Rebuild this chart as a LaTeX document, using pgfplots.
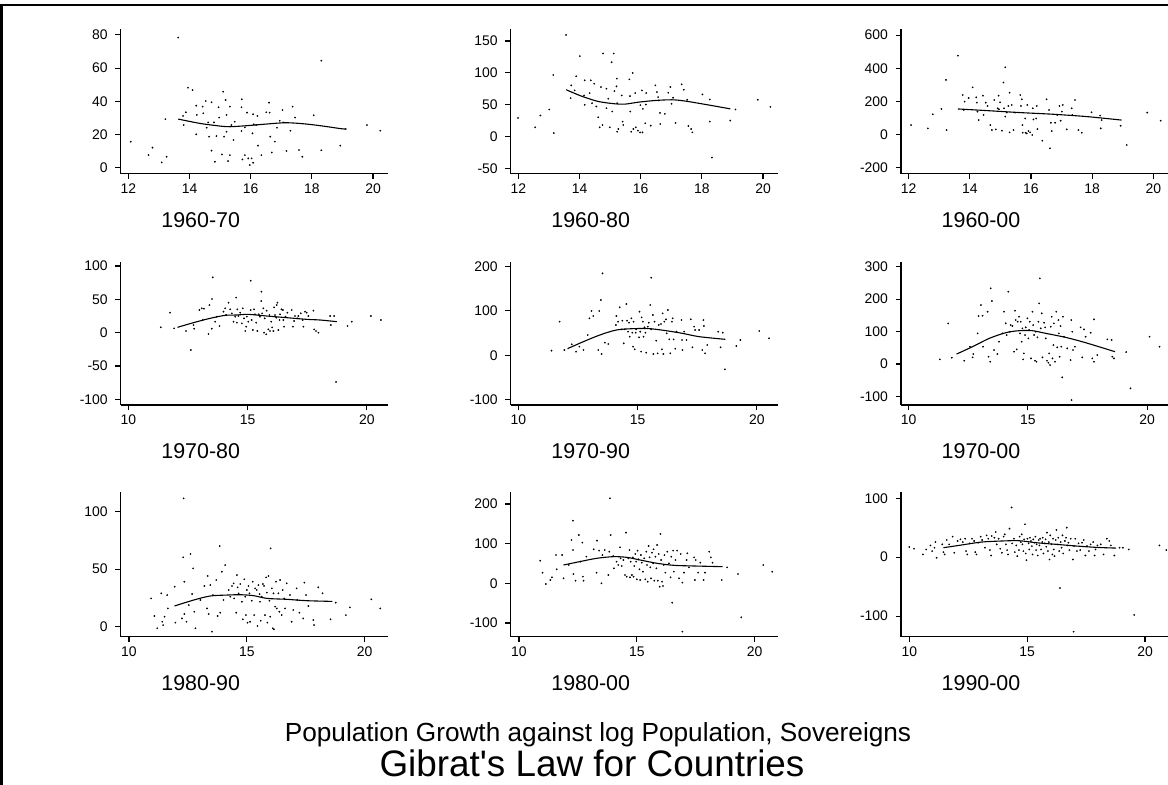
\documentclass[border=0pt]{standalone}
\usepackage{pgfplots}
\pgfplotsset{compat=1.18}
\usepackage{fontspec}
\setmainfont{Liberation Sans}
\pgfplotsset{
  gib/.style={
    scale only axis,
    axis x line=bottom, axis y line=left,
    every outer x axis line/.append style={-},
    every outer y axis line/.append style={-},
    axis line style={-, black, line width=1.2bp},
    tick align=outside,
    major tick length=5.5bp,
    every tick/.style={black, line width=1.1bp},
    enlargelimits=false,
    clip=false,
    tick label style={font=\fontsize{14}{14}\selectfont, black},
    /pgf/number format/assume math mode=true,
    yticklabel style={xshift=-4bp},
    xticklabel style={yshift=-1bp},
    width=267.6bp,
  },
  pts/.style={only marks, mark=*, mark size=0.65bp, mark options={fill=black, draw=none}},
  fit/.style={no marks, black, line width=1.1bp, smooth},
}
\begin{document}
\begin{tikzpicture}[x=1bp, y=1bp]
% ---------------- Row 1 ----------------
\begin{axis}[gib, at={(120.7bp,611.3bp)}, anchor=south west, height=144.4bp,
  xmin=11.75, xmax=20.5, ymin=-3.6, ymax=83.4,
  xtick={12,14,16,18,20}, ytick={0,20,40,60,80}]
\addplot[pts] coordinates {(13.63,78.4)(12.08,15.7)(12.66,7.6)(12.79,12.1)(13.09,3.2)(13.21,29.3)(13.25,6.6)(13.95,48.2)(14.10,46.8)(13.79,31.2)(13.81,25.7)(13.88,33.4)(14.22,37.4)(14.24,31.8)(14.22,20.1)(14.43,36.8)(14.45,32.8)(14.53,40.2)(14.61,27.3)(14.56,24.1)(14.64,18.7)(14.72,39.4)(14.72,10.3)(14.80,27.3)(14.83,3.6)(14.88,19.1)(14.95,36.4)(14.97,30.2)(15.10,45.8)(15.13,18.7)(15.18,40.8)(15.21,31.8)(15.21,21.7)(15.26,4.0)(15.32,7.6)(15.32,36.8)(15.06,8.0)(15.37,25.7)(15.44,16.7)(15.48,27.7)(15.71,41.2)(15.70,36.4)(15.70,22.1)(15.73,5.0)(15.81,7.6)(15.81,24.3)(15.88,33.2)(15.92,5.6)(15.97,1.6)(16.03,5.6)(16.06,20.7)(16.08,32.2)(16.08,3.0)(16.10,26.1)(16.22,31.2)(16.24,13.3)(16.18,25.7)(16.35,7.6)(16.51,33.4)(16.60,39.2)(16.62,33.2)(16.64,18.7)(16.69,9.2)(16.79,15.7)(16.86,24.1)(16.95,28.3)(17.04,34.8)(17.06,27.3)(17.17,10.1)(17.30,22.3)(17.37,36.8)(17.45,30.2)(17.58,10.7)(17.69,6.6)(18.06,31.6)(18.31,64.5)(18.31,10.5)(18.93,13.3)(19.11,23.3)(19.80,25.7)(20.24,22.3)};
\addplot[fit] coordinates {(13.63,29.3)(14.34,26.7)(14.99,25.1)(15.32,24.7)(15.86,25.3)(16.51,26.3)(17.17,27.1)(17.82,26.3)(18.36,25.1)(18.96,23.5)(19.10,23.3)};
\end{axis}

\begin{axis}[gib, at={(510.7bp,611.3bp)}, anchor=south west, height=144.4bp,
  xmin=11.75, xmax=20.5, ymin=-57.9, ymax=168.4,
  xtick={12,14,16,18,20}, ytick={-50,0,50,100,150}]
\addplot[pts] coordinates {(13.56,159.5)(11.99,29.5)(12.55,14.7)(12.72,33.2)(13.01,42.6)(13.14,96.8)(13.16,5.8)(13.73,80.5)(13.71,60.5)(13.84,72.6)(13.89,94.7)(14.01,126.3)(14.15,64.7)(14.17,88.4)(14.17,50.0)(14.33,68.4)(14.37,88.4)(14.41,52.6)(14.48,83.2)(14.55,47.4)(14.61,30.5)(14.70,77.9)(14.66,14.7)(14.75,18.4)(14.77,130.5)(14.88,75.3)(14.88,44.7)(14.94,59.5)(14.99,14.7)(15.07,39.5)(15.05,116.8)(15.12,130.5)(15.14,71.6)(15.22,91.1)(15.21,78.9)(15.23,52.6)(15.23,7.9)(15.27,12.1)(15.38,64.7)(15.41,23.7)(15.43,18.4)(15.63,90.0)(15.65,63.7)(15.66,39.5)(15.69,7.9)(15.74,100.0)(15.76,12.1)(15.82,68.4)(15.84,14.7)(15.91,9.5)(15.99,49.5)(15.98,6.8)(16.04,72.6)(16.07,43.7)(16.06,6.8)(16.15,21.1)(16.18,68.4)(16.17,50.5)(16.33,17.4)(16.48,80.5)(16.53,70.0)(16.57,62.1)(16.59,56.8)(16.63,37.4)(16.64,20.0)(16.79,35.8)(16.90,68.9)(16.97,77.9)(17.01,51.6)(17.06,61.1)(17.14,21.6)(17.34,82.1)(17.41,73.7)(17.52,57.9)(17.56,16.8)(17.65,12.1)(17.69,6.8)(18.02,66.3)(18.26,58.4)(18.26,23.7)(18.33,-32.6)(18.93,25.3)(19.10,42.6)(19.83,57.9)(20.24,46.8)};
\addplot[fit] coordinates {(13.56,73.7)(14.06,63.7)(14.61,55.3)(15.16,51.6)(15.49,51.1)(15.93,54.2)(16.48,56.8)(17.03,57.9)(17.47,55.8)(18.13,50.5)(18.93,43.7)};
\end{axis}

\begin{axis}[gib, at={(901bp,611.3bp)}, anchor=south west, height=144.4bp,
  xmin=11.75, xmax=20.5, ymin=-235, ymax=635,
  xtick={12,14,16,18,20}, ytick={-200,0,200,400,600}]
\addplot[pts] coordinates {(13.61,476)(12.08,58)(12.63,38)(12.79,123)(13.07,155)(13.22,330)(13.24,28)(13.77,239)(13.83,199)(13.96,221)(13.80,149)(14.09,285)(14.21,225)(14.23,193)(14.25,139)(14.29,88)(14.43,235)(14.45,119)(14.52,193)(14.58,173)(14.67,58)(14.72,28)(14.80,209)(14.85,32)(14.91,159)(14.94,235)(14.95,153)(14.99,195)(15.05,24)(15.10,314)(15.16,406)(15.12,159)(15.16,109)(15.21,133)(15.26,173)(15.30,253)(15.30,14)(15.37,179)(15.43,28)(15.48,133)(15.65,239)(15.67,173)(15.70,213)(15.72,58)(15.73,12)(15.81,98)(15.82,12)(15.86,8)(15.88,179)(15.92,22)(15.97,14)(16.04,-2)(16.06,159)(16.08,92)(16.17,98)(16.19,173)(16.21,34)(16.37,-36)(16.51,213)(16.59,149)(16.62,-82)(16.65,72)(16.68,22)(16.79,72)(16.86,119)(16.93,173)(16.97,84)(17.01,139)(17.04,179)(17.17,32)(17.33,159)(17.35,119)(17.44,209)(17.55,28)(17.66,12)(17.98,135)(18.26,115)(18.28,38)(18.31,88)(18.93,54)(19.13,-62)(19.80,133)(20.24,84)};
\addplot[fit] coordinates {(13.61,155)(14.56,145)(15.65,133)(16.73,123)(17.82,109)(18.96,88)};
\end{axis}

% ---------------- Row 2 ----------------
\begin{axis}[gib, at={(120.7bp,380bp)}, anchor=south west, height=143.3bp,
  xmin=9.68, xmax=20.9, ymin=-108.5, ymax=106.5,
  xtick={10,15,20}, ytick={-100,-50,0,50,100}]
\addplot[pts] coordinates {(11.36,8)(11.75,30)(11.92,6.5)(12.42,2.5)(12.62,-26)(12.73,11.5)(12.76,6)(12.98,34)(13.08,36.5)(13.17,36)(13.12,19)(13.36,-2)(13.40,41.5)(13.50,6)(13.54,83)(13.51,50.5)(13.64,16.5)(13.71,24)(13.82,10)(13.99,31.5)(14.06,36.5)(14.10,26.5)(14.20,45)(14.27,35)(14.34,29)(14.41,16.5)(14.48,24)(14.52,52.5)(14.55,15)(14.57,35)(14.62,25)(14.69,30)(14.76,14)(14.80,36.5)(14.85,21.5)(14.90,2.5)(14.94,9)(14.97,24)(15.03,16.5)(15.13,78)(15.13,34)(15.17,19)(15.22,4)(15.27,35)(15.31,27.5)(15.36,15)(15.41,2.5)(15.47,27.5)(15.52,24)(15.57,47.5)(15.58,61.5)(15.61,29)(15.66,36.5)(15.69,0)(15.72,21.5)(15.78,-2.5)(15.80,33)(15.87,5)(15.92,26.5)(15.94,2.5)(15.99,16.5)(16.03,8)(16.08,2.5)(16.11,38)(16.15,26.5)(16.20,22.5)(16.22,41.5)(16.25,45)(16.29,4)(16.34,19)(16.36,27.5)(16.42,35)(16.48,34)(16.50,19)(16.53,9)(16.59,24)(16.67,30)(16.85,34)(16.90,9)(16.95,17.5)(16.99,25)(17.09,21.5)(17.13,25)(17.23,29)(17.31,19)(17.34,9)(17.41,31.5)(17.48,30)(17.55,25)(17.76,33)(17.79,5)(17.87,2.5)(17.97,0)(18.46,25)(18.49,11.5)(18.63,25)(18.71,-74)(19.19,10)(19.37,16.5)(20.17,25)(20.59,19)};
\addplot[fit] coordinates {(12.06,8)(12.73,15)(13.43,21.5)(14.06,26)(14.55,26.5)(15.03,27.5)(15.80,25)(16.64,22.5)(17.48,20)(18.04,19)(18.74,16.5)};
\end{axis}

\begin{axis}[gib, at={(510.7bp,380bp)}, anchor=south west, height=143.3bp,
  xmin=9.68, xmax=20.9, ymin=-111.8, ymax=210.8,
  xtick={10,15,20}, ytick={-100,0,100,200}]
\addplot[pts] coordinates {(11.39,10.5)(11.73,75.8)(11.93,12)(12.24,24.8)(12.42,8.3)(12.56,19.5)(12.73,12)(12.91,45.8)(12.98,83.3)(13.07,99.8)(13.14,88.5)(13.35,12)(13.39,99.8)(13.46,124.5)(13.49,3)(13.53,184.5)(13.63,28.5)(13.77,25.5)(14.09,68.3)(14.11,88.5)(14.18,75.8)(14.25,108)(14.32,58.5)(14.36,78)(14.42,27)(14.46,58.5)(14.53,115.5)(14.56,78)(14.60,53.3)(14.64,73.5)(14.67,42)(14.74,83.3)(14.78,51)(14.81,19.5)(14.83,75.8)(14.88,13.5)(14.92,51)(14.94,58.5)(15.06,40.5)(15.08,98.3)(15.11,53.3)(15.15,8.3)(15.17,85.5)(15.22,75.8)(15.25,42)(15.29,63)(15.33,51)(15.36,6)(15.43,64.5)(15.47,73.5)(15.53,113.3)(15.57,174.8)(15.57,58.5)(15.64,90.8)(15.66,3)(15.71,75.8)(15.78,33)(15.84,4.5)(15.89,68.3)(15.98,70.5)(16.02,13.5)(16.05,94.5)(16.08,3)(16.12,75.8)(16.19,81)(16.22,49.5)(16.27,102)(16.33,36)(16.37,4.5)(16.44,75.8)(16.47,83.3)(16.51,36)(16.58,15)(16.63,53.3)(16.84,79.5)(16.86,34.5)(16.88,12)(16.95,53.3)(17.05,34.5)(17.23,81)(17.30,18)(17.37,64.5)(17.41,57)(17.58,57)(17.71,12)(17.76,79.5)(17.78,66)(17.83,4.5)(17.92,23.3)(18.38,53.3)(18.48,18)(18.57,51)(18.66,-31.5)(19.14,21)(19.31,34.5)(20.10,54.8)(20.51,38.3)};
\addplot[fit] coordinates {(12.06,15)(12.73,30.8)(13.42,45.8)(14.11,57)(14.81,60)(15.50,60)(16.19,55.5)(16.88,49.5)(17.58,42)(18.68,36)};
\end{axis}

\begin{axis}[gib, at={(901bp,380bp)}, anchor=south west, height=143.3bp,
  xmin=9.68, xmax=20.9, ymin=-126, ymax=315,
  xtick={10,15,20}, ytick={-100,0,100,200,300}]
\addplot[pts] coordinates {(11.31,14.4)(11.66,125)(11.81,19.5)(12.33,10.3)(12.57,53.4)(12.68,20.5)(12.71,30.8)(12.89,94.4)(12.93,147.7)(13.03,181.6)(13.10,148.8)(13.12,53.4)(13.31,161)(13.35,22.6)(13.42,7.2)(13.44,232.9)(13.49,193.9)(13.58,43.1)(13.72,30.8)(13.79,68.7)(13.93,94.4)(14.00,161)(14.07,125.2)(14.11,89.3)(14.18,222.6)(14.24,99.5)(14.28,120)(14.35,117)(14.42,38)(14.46,164.2)(14.49,135.4)(14.53,45.1)(14.57,130.3)(14.63,145.7)(14.67,94.4)(14.70,130.3)(14.74,68.7)(14.77,109.8)(14.80,14.4)(14.83,32.8)(14.88,89.3)(14.91,112.9)(14.98,140.6)(15.02,79)(15.05,104.7)(15.08,130.3)(15.13,17.4)(15.19,161)(15.22,120)(15.26,89.3)(15.30,10.3)(15.33,99.5)(15.36,7.2)(15.40,82.1)(15.44,130.3)(15.47,186.7)(15.50,263.7)(15.54,109.8)(15.58,156)(15.61,20.5)(15.68,127.2)(15.72,112.9)(15.75,79)(15.80,10.3)(15.86,4.1)(15.89,32.8)(15.93,-3.1)(15.96,114.9)(16.00,145.7)(16.03,17.4)(16.07,58.5)(16.09,125.2)(16.14,7.2)(16.19,161)(16.23,51.3)(16.28,135.4)(16.30,94.4)(16.33,22.6)(16.37,117)(16.40,53.4)(16.44,-41)(16.47,145.7)(16.51,84.1)(16.65,48.2)(16.79,12.3)(16.82,135.4)(16.83,-110.8)(16.86,99.5)(16.89,43.1)(16.97,53.4)(17.21,112.9)(17.28,20.5)(17.35,106.7)(17.42,84.1)(17.63,96.4)(17.70,17.4)(17.77,137.5)(17.77,7.2)(17.91,27.7)(18.33,75.9)(18.51,73.9)(18.54,22.6)(18.61,17.4)(19.12,36.9)(19.30,-74.9)(20.10,84.1)(20.52,53.4)};
\addplot[fit] coordinates {(12.01,30.8)(12.68,53.4)(13.38,79)(14.07,96.4)(14.63,102.6)(15.19,102.6)(15.75,94.4)(16.58,82.1)(17.42,65.7)(18.65,38)};
\end{axis}

% ---------------- Row 3 ----------------
\begin{axis}[gib, at={(120.7bp,148.3bp)}, anchor=south west, height=145bp,
  xmin=9.65, xmax=21.0, ymin=-8.7, ymax=117.4,
  xtick={10,15,20}, ytick={0,50,100}]
\addplot[pts] coordinates {(10.94,24.6)(11.08,9.3)(11.20,-1.4)(11.37,29)(11.41,4.3)(11.45,1.4)(11.51,8.7)(11.62,27.5)(11.65,15.9)(11.94,34.8)(11.97,3.5)(12.25,7.2)(12.30,60.3)(12.32,111.6)(12.35,39.1)(12.35,11)(12.44,4.3)(12.54,18.8)(12.61,63.2)(12.68,28.4)(12.72,50.7)(12.77,13)(12.82,-1.4)(13.03,23.2)(13.20,35.4)(13.31,15.9)(13.34,44.1)(13.38,11)(13.45,36.2)(13.52,-4.3)(13.56,27.5)(13.70,40.6)(13.76,9.3)(13.85,70.1)(13.87,12.2)(13.94,47.8)(14.01,23.2)(14.08,53.6)(14.23,31.9)(14.30,26.1)(14.37,35.4)(14.44,37.7)(14.46,24.6)(14.55,12.2)(14.58,44.9)(14.61,34.2)(14.65,29)(14.72,37.1)(14.79,21.7)(14.83,6.4)(14.89,41.2)(14.93,26.1)(14.96,10.1)(15.00,31.9)(15.03,3.5)(15.07,35.4)(15.11,29)(15.14,4.3)(15.21,22.6)(15.25,39.1)(15.31,10.1)(15.35,33.3)(15.42,31.9)(15.45,0.6)(15.49,36.2)(15.54,28.4)(15.56,21.7)(15.59,5.2)(15.63,26.1)(15.68,37.1)(15.73,35.4)(15.77,10.1)(15.82,42.9)(15.85,29.6)(15.87,3.5)(15.92,44.1)(15.96,22.6)(15.99,8.7)(16.01,68.1)(16.06,33.3)(16.10,-1.4)(16.13,29)(16.15,-2.3)(16.20,17.4)(16.24,39.1)(16.27,15.9)(16.34,29)(16.38,13)(16.41,40.6)(16.48,10.1)(16.52,31.9)(16.58,24.6)(16.62,15.9)(16.69,37.7)(16.83,27.5)(16.90,4.3)(16.97,14.5)(17.11,33.3)(17.14,23.2)(17.23,12.2)(17.39,7.2)(17.44,38.3)(17.51,27.5)(17.61,18)(17.82,5.8)(17.85,1.4)(18.03,34.2)(18.21,29)(18.55,6.4)(18.77,20.9)(19.20,10.1)(19.37,16.8)(20.28,23.8)(20.66,15.9)};
\addplot[fit] coordinates {(11.93,18)(12.75,23.2)(13.45,26.7)(14.15,27.5)(14.72,27.8)(15.28,27)(15.85,24.6)(16.69,23.8)(17.54,22.6)(18.63,22)};
\end{axis}

\begin{axis}[gib, at={(510.7bp,148.3bp)}, anchor=south west, height=145bp,
  xmin=9.65, xmax=21.0, ymin=-134.5, ymax=231,
  xtick={10,15,20}, ytick={-100,0,100,200}]
\addplot[pts] coordinates {(10.90,57.1)(11.00,26.9)(11.14,-1.7)(11.33,8.4)(11.40,15.1)(11.57,71.4)(11.60,35.3)(11.83,71.4)(11.89,12.6)(12.11,46.2)(12.23,109.2)(12.29,158)(12.29,84)(12.31,23.5)(12.40,6.7)(12.54,121.8)(12.60,54.6)(12.69,102.5)(12.71,16.8)(12.74,6.7)(12.86,67.2)(13.17,85.7)(13.29,26.9)(13.31,107.6)(13.40,82.4)(13.50,0)(13.54,71.4)(13.64,84)(13.79,21)(13.83,79.8)(13.86,214.3)(13.89,121.8)(14.00,68.9)(14.03,37.8)(14.14,54.6)(14.21,46.2)(14.29,90.8)(14.31,63)(14.36,43.7)(14.43,58.8)(14.50,21)(14.54,127.7)(14.57,16.8)(14.64,63)(14.69,84)(14.71,15.1)(14.74,54.6)(14.79,21)(14.83,65.5)(14.86,16.8)(14.89,43.7)(14.93,73.9)(14.97,54.6)(15.00,10.1)(15.03,82.4)(15.07,60.5)(15.11,35.3)(15.14,8.4)(15.17,71.4)(15.21,52.1)(15.26,29.4)(15.31,63)(15.36,10.1)(15.40,79.8)(15.43,46.2)(15.46,4.2)(15.50,94.1)(15.54,65.5)(15.57,40.3)(15.60,12.6)(15.64,77.3)(15.69,50.4)(15.71,85.7)(15.74,6.7)(15.79,67.2)(15.83,37.8)(15.86,96.6)(15.89,6.7)(15.93,73.9)(15.97,-8.4)(16.00,124.4)(16.03,58.8)(16.07,4.2)(16.11,-6.7)(16.14,46.2)(16.17,71.4)(16.21,26.9)(16.29,79.8)(16.36,50.4)(16.43,15.1)(16.46,67.2)(16.50,-48.7)(16.54,82.4)(16.57,29.4)(16.64,58.8)(16.71,82.4)(16.79,12.6)(16.86,73.9)(16.93,1.7)(16.93,-121.8)(17.00,26.9)(17.11,58.8)(17.14,75.6)(17.21,40.3)(17.43,65.5)(17.46,8.4)(17.50,58.8)(17.60,26.9)(17.69,52.1)(17.83,8.4)(17.89,26.9)(18.07,79.8)(18.14,65.5)(18.21,52.1)(18.60,8.4)(18.83,40.3)(19.29,23.5)(19.43,-85.7)(20.36,46.2)(20.74,29.4)};
\addplot[fit] coordinates {(11.89,46.2)(12.57,54.6)(13.29,63)(14.00,67.2)(14.57,65.5)(15.14,58.8)(15.86,50.4)(16.57,45.4)(17.43,43.7)(18.64,42)};
\end{axis}

\begin{axis}[gib, at={(901bp,148.3bp)}, anchor=south west, height=145bp,
  xmin=9.65, xmax=21.0, ymin=-135, ymax=111.1,
  xtick={10,15,20}, ytick={-100,0,100}]
\addplot[pts] coordinates {(10.00,17.1)(10.20,14.2)(10.58,4.6)(10.72,13.1)(10.90,19.9)(10.97,10.3)(11.07,16)(11.11,25.6)(11.16,-1.1)(11.40,21.7)(11.45,8.5)(11.50,4.6)(11.59,29.1)(11.69,21.7)(11.84,34.8)(11.91,7.4)(12.05,27.4)(12.17,30.2)(12.27,25.6)(12.37,31.3)(12.41,10.3)(12.46,4.6)(12.56,23.4)(12.66,31.3)(12.75,27.4)(12.80,8.5)(12.85,4.6)(12.92,24.5)(13.03,34.8)(13.09,29.1)(13.21,16)(13.28,37)(13.35,31.3)(13.42,12)(13.47,2.8)(13.50,35.9)(13.61,33)(13.67,42.7)(13.71,21.7)(13.79,31.3)(13.86,14.2)(13.93,7.4)(14.00,34.8)(14.05,38.7)(14.10,21.7)(14.15,12)(14.19,4.6)(14.25,48.4)(14.34,84.3)(14.36,23.4)(14.44,31.3)(14.48,8.5)(14.54,19.9)(14.58,1.7)(14.65,12)(14.68,34.8)(14.73,25.6)(14.77,38.7)(14.80,21.7)(14.84,10.3)(14.87,30.2)(14.91,55.8)(14.94,6.3)(14.97,-5.1)(15.01,31.3)(15.06,23.4)(15.09,13.1)(15.12,33)(15.16,27.4)(15.20,18.8)(15.23,4.6)(15.26,30.2)(15.30,24.5)(15.35,34.8)(15.38,12)(15.40,21.7)(15.45,2.8)(15.49,29.1)(15.52,19.9)(15.55,31.3)(15.59,13.1)(15.64,25.6)(15.66,33)(15.69,6.3)(15.74,23.4)(15.78,30.2)(15.81,17.7)(15.84,41.6)(15.88,10.3)(15.92,25.6)(15.95,-4)(15.98,37)(16.03,21.7)(16.07,4.6)(16.10,31.3)(16.13,13.1)(16.16,1.7)(16.21,29.1)(16.24,46.2)(16.27,21.7)(16.32,33)(16.36,10.3)(16.39,-52.4)(16.42,25.6)(16.46,16)(16.50,37)(16.53,6.3)(16.60,27.4)(16.65,33)(16.68,50.1)(16.71,19.9)(16.75,24.5)(16.79,12)(16.85,31.3)(16.94,-4)(16.97,-126.5)(16.99,18.8)(17.04,31.3)(17.11,10.3)(17.18,23.4)(17.25,12)(17.33,24.5)(17.40,29.1)(17.47,2.8)(17.54,18.8)(17.62,10.3)(17.69,21.7)(17.80,25.6)(17.86,2.8)(17.90,13.1)(17.98,19.9)(18.12,21.7)(18.24,4.6)(18.38,31.3)(18.48,27.4)(18.55,19.9)(18.70,2.8)(18.92,16)(19.06,16)(19.31,13.1)(19.54,-98)(20.61,19.9)(20.90,12)};
\addplot[fit] coordinates {(11.45,16)(12.20,20.5)(13.06,25.6)(13.93,27.4)(14.65,27.9)(15.38,24.5)(16.24,21.7)(17.11,18.8)(17.98,16.5)(18.77,15.4)};
\end{axis}

% ---------------- panel titles ----------------
\begin{scope}[every node/.style={font=\fontsize{21.5}{21.5}\selectfont, anchor=base, inner sep=0pt}]
\node at (200.7,557.5) {1960-70};
\node at (590.7,557.5) {1960-80};
\node at (981,557.5) {1960-00};
\node at (200.7,326) {1970-80};
\node at (590.7,326) {1970-90};
\node at (981,326) {1970-00};
\node at (200.7,94.5) {1980-90};
\node at (590.7,94.5) {1980-00};
\node at (981,94.5) {1990-00};
\end{scope}
% ---------------- titles ----------------
\node[font=\fontsize{26.3}{26.3}\selectfont, anchor=base, inner sep=0pt] at (598,43.5) {Population Growth against log Population, Sovereigns};
\node[font=\fontsize{37}{37}\selectfont, anchor=base, inner sep=0pt] at (592,8) {Gibrat\textquotesingle s Law for Countries};
% ---------------- frame ----------------
\draw[line width=2.5bp] (1.5,0) -- (1.5,780) -- (1170,780);
\pgfresetboundingbox
\useasboundingbox (0,0) rectangle (1168,785);
\end{tikzpicture}
\end{document}
